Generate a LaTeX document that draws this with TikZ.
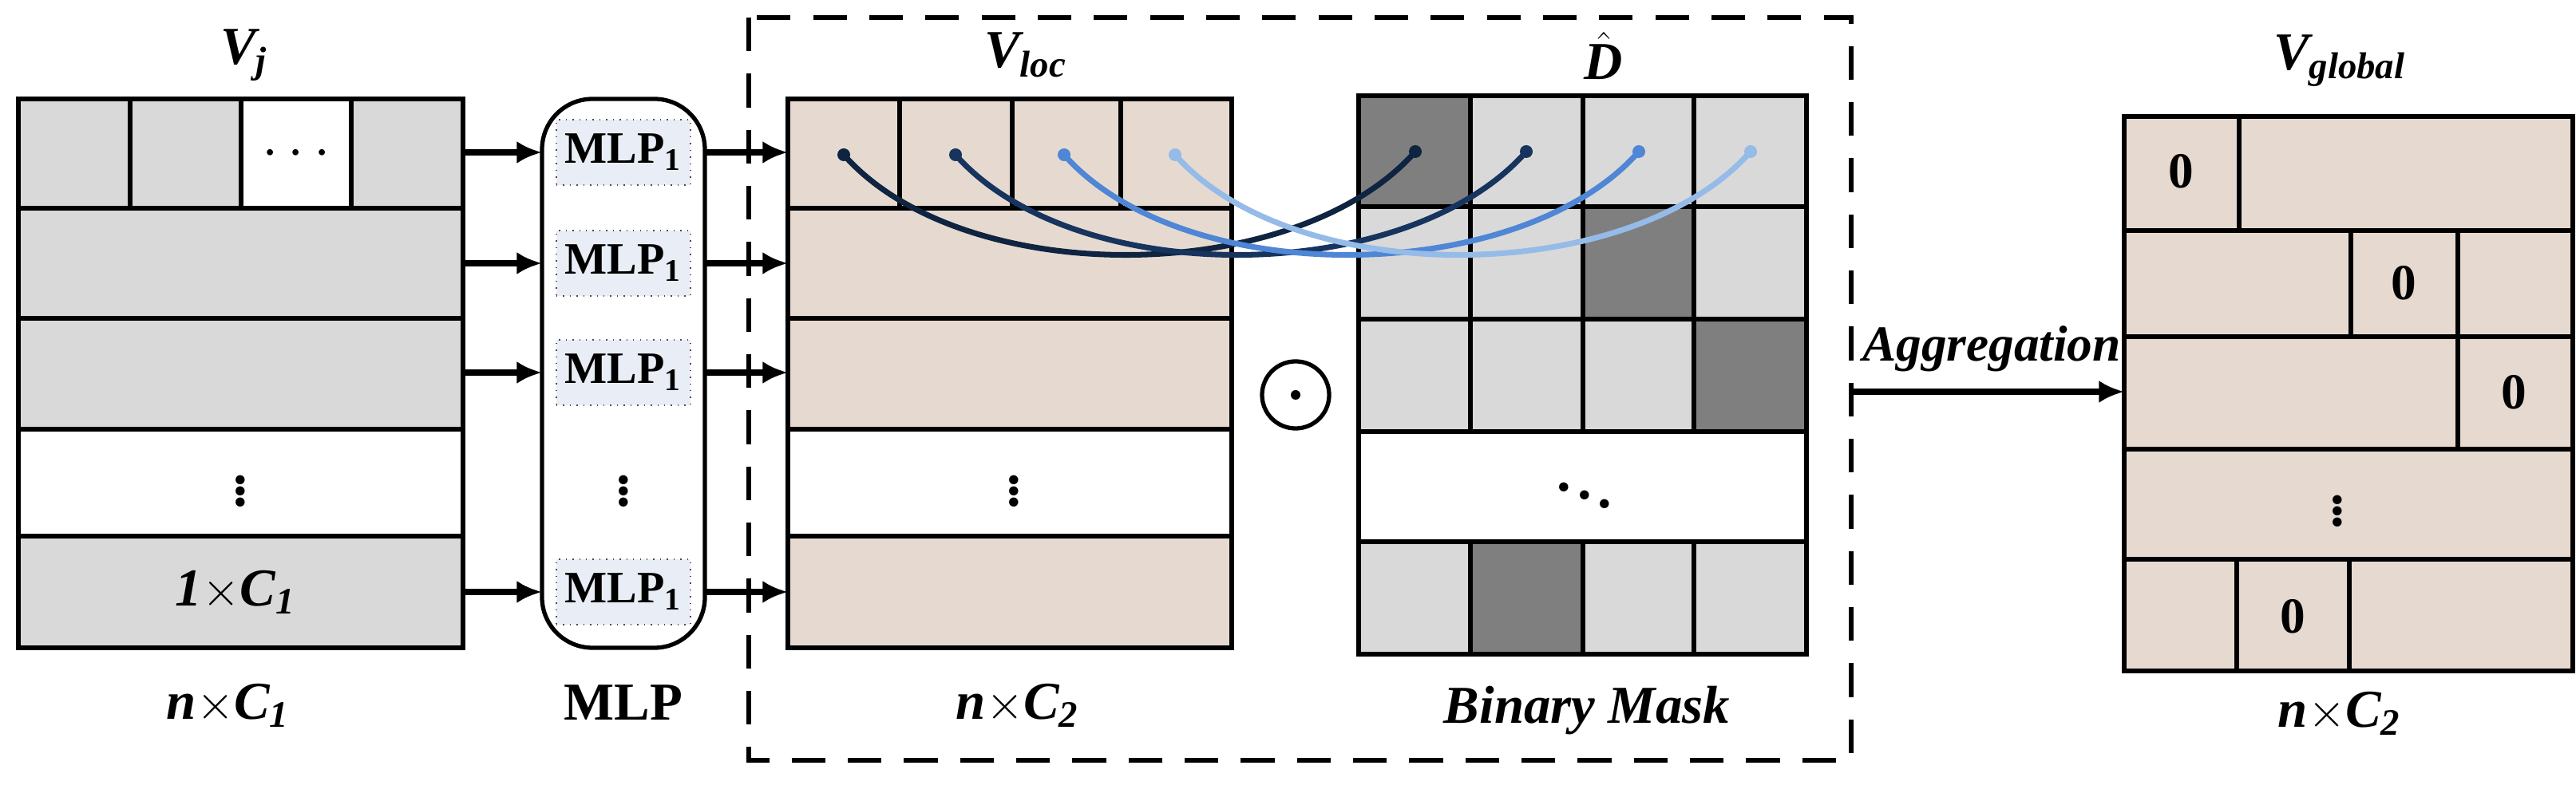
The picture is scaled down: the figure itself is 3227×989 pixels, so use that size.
\documentclass[tikz,border=0pt]{standalone}
\usepackage{amsmath}
\usepackage{fontspec}
\setmainfont{Liberation Serif}
\usetikzlibrary{positioning,arrows.meta}
\definecolor{cellgray}{HTML}{D9D9D9}
\definecolor{celldark}{HTML}{7F7F7F}
\definecolor{cellbeige}{HTML}{E6DAD0}
\definecolor{mlpfill}{HTML}{E9EDF6}
\definecolor{curveA}{HTML}{0E2440}
\definecolor{curveB}{HTML}{16345E}
\definecolor{curveC}{HTML}{4F86D6}
\definecolor{curveD}{HTML}{95BBE8}
\tikzset{
    cell/.style={draw=black,line width=1.5pt},
    flow/.style={-{Latex[length=9pt,width=8pt]},line width=2pt},
    mlpbox/.style={draw=black!70,dotted,fill=mlpfill,minimum width=1.68cm,minimum height=0.82cm,inner sep=0pt,font=\bfseries\fontsize{16}{18}\selectfont},
    lbl/.style={font=\bfseries\itshape\fontsize{19}{22}\selectfont},
    zero/.style={font=\bfseries\fontsize{18}{20}\selectfont},
    dots/.style={font=\bfseries\fontsize{20}{22}\selectfont},
    link/.style={line width=2pt},
}
\begin{document}
\begin{tikzpicture}[x=0.01cm,y=-0.01cm]
    \useasboundingbox (0,0) rectangle (3227,989);

    % Input features V_j
    \draw[cell,fill=cellgray] (23,124) rectangle (580,812);
    \fill[white] (302,124) rectangle (440,261);
    \fill[white] (23,538) rectangle (580,672);
    \foreach \y in {261,399,538,672} \draw[cell] (23,\y) -- (580,\y);
    \foreach \x in {163,302,440} \draw[cell] (\x,124) -- (\x,261);
    \draw[cell] (23,124) rectangle (580,812);
    \node[dots] at (371,193) {\(\cdots\)};
    \node[dots] at (301,605) {\(\vdots\)};
    \node[lbl] at (295,742) {1\(\times\)C\textsubscript{1}};
    \node[lbl] (vj) at (306,69) {V\textsubscript{j}};
    \node[lbl] (ninc) at (286,884) {n\(\times\)C\textsubscript{1}};

    % Shared MLP
    \draw[line width=1.5pt,rounded corners=18pt] (679,124) rectangle (883,812);
    \node[mlpbox] (m1) at (781,191) {MLP\textsubscript{1}};
    \node[mlpbox] (m2) at (781,330) {MLP\textsubscript{1}};
    \node[mlpbox] (m3) at (781,467) {MLP\textsubscript{1}};
    \node[mlpbox] (m4) at (781,742) {MLP\textsubscript{1}};
    \node[dots] at (781,605) {\(\vdots\)};
    \node[font=\bfseries\fontsize{19}{22}\selectfont] (mlp) at (781,881) {MLP};

    % Local features V_loc
    \draw[cell,fill=cellbeige] (987,124) rectangle (1543,812);
    \fill[white] (987,538) rectangle (1543,672);
    \foreach \y in {261,399,538,672} \draw[cell] (987,\y) -- (1543,\y);
    \foreach \x in {1127,1268,1404} \draw[cell] (\x,124) -- (\x,261);
    \draw[cell] (987,124) rectangle (1543,812);
    \node[dots] at (1270,605) {\(\vdots\)};
    \node[lbl] (vloc) at (1285,69) {V\textsubscript{loc}};
    \node[lbl] (nctwo) at (1275,884) {n\(\times\)C\textsubscript{2}};

    % Arrows into and out of the MLP
    \foreach \i/\y in {1/191,2/330,3/467,4/742} {
        \coordinate (in\i) at (580,\y);
        \coordinate (out\i) at (987,\y);
        \draw[flow] (in\i) -- (m\i.west -| 679,\y);
        \draw[flow] (m\i.east -| 883,\y) -- (out\i);
    }

    % Hadamard product
    \node[draw,circle,line width=1.5pt,minimum size=0.84cm] (odot) at (1623,495) {};
    \fill (odot.center) circle (6);

    % Binary mask D-hat
    \draw[cell,fill=cellgray] (1702,120) rectangle (2263,820);
    \fill[celldark] (1702,120) rectangle (1842,259);
    \fill[celldark] (1983,259) rectangle (2122,400);
    \fill[celldark] (2122,400) rectangle (2263,541);
    \fill[celldark] (1842,679) rectangle (1983,820);
    \fill[white] (1702,541) rectangle (2263,679);
    \foreach \y in {259,400,541,679} \draw[cell] (1702,\y) -- (2263,\y);
    \foreach \x in {1842,1983,2122} {
        \draw[cell] (\x,120) -- (\x,541);
        \draw[cell] (\x,679) -- (\x,820);
    }
    \draw[cell] (1702,120) rectangle (2263,820);
    \node[dots] at (1985,610) {\(\ddots\)};
    \node[lbl] (dhat) at (2009,70) {\(\hat{\text{D}}\)};
    \node[lbl] (mask) at (1988,891) {Binary Mask};

    % Links between local features and mask entries
    \foreach \a/\b/\c in {1057/1773/curveA,1197/1912/curveB,1333/2053/curveC,1472/2193/curveD} {
        \coordinate (s) at (\a,194);
        \coordinate (t) at (\b,190);
        \draw[link,\c] (s) .. controls +(150,170) and +(-150,170) .. (t);
        \fill[\c] (s) circle (8);
        \fill[\c] (t) circle (8);
    }

    % Dashed frame
    \draw[line width=1.5pt,dash pattern=on 12pt off 8pt] (938,22) rectangle (2319,953);

    % Aggregation
    \coordinate (aggfrom) at (2319,491);
    \coordinate (aggto) at (2661,491);
    \draw[flow] (aggfrom) -- (aggto);
    \node[lbl,font=\bfseries\itshape\fontsize{18}{20}\selectfont] (agg) at (2495,437) {Aggregation};

    % Global features V_global
    \draw[cell,fill=cellbeige] (2661,146) rectangle (3223,841);
    \foreach \y in {289,422,563,701} \draw[cell] (2661,\y) -- (3223,\y);
    \draw[cell] (2805,146) -- (2805,289);
    \draw[cell] (2945,289) -- (2945,422);
    \draw[cell] (3079,289) -- (3079,563);
    \draw[cell] (2802,701) -- (2802,841);
    \draw[cell] (2943,701) -- (2943,841);
    \node[zero] at (2732,215) {0};
    \node[zero] at (3011,355) {0};
    \node[zero] at (3149,492) {0};
    \node[zero] at (2872,773) {0};
    \node[dots] at (2928,630) {\(\vdots\)};
    \node[lbl] (vglobal) at (2931,76) {V\textsubscript{global}};
    \node[lbl] (ncglob) at (2931,894) {n\(\times\)C\textsubscript{2}};
\end{tikzpicture}
\end{document}
